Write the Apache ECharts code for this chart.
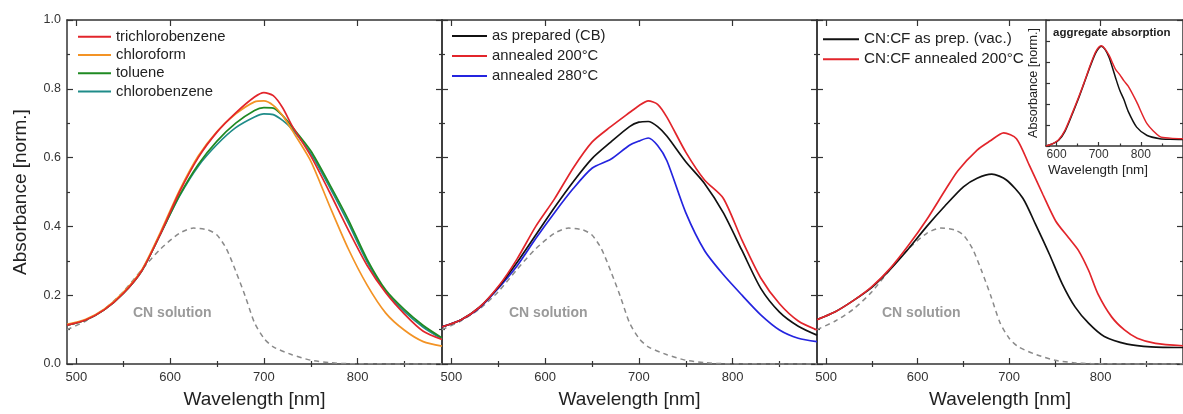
<!DOCTYPE html>
<html><head><meta charset="utf-8">
<script src="https://cdn.jsdelivr.net/npm/echarts@6/dist/echarts.min.js"></script>
<style>html,body{margin:0;padding:0;background:#fff}#c{width:1183px;height:414px}</style>
</head><body><div id="c"></div>
<script>
// ---- tick labels ----
const xTicksMajor = [500, 600, 700, 800];
const xTicksMinor = [550, 650, 750, 850];
const insetTicksMajor = [600, 700, 800];
const insetTicksMinor = [650, 750, 850];

// ---- panel 1: solvents ----
const wl1 = [490,510,530,550,570,590,610,630,650,670,690,700,710,720,730,750,770,790,810,830,850,870,890];
const trichlorobenzene = [0.113,0.128,0.158,0.205,0.272,0.38,0.5,0.6,0.674,0.73,0.776,0.789,0.78,0.745,0.693,0.605,0.5,0.39,0.287,0.207,0.145,0.095,0.071];
const chloroform       = [0.115,0.13,0.16,0.208,0.275,0.385,0.505,0.605,0.676,0.727,0.762,0.765,0.752,0.722,0.68,0.59,0.46,0.335,0.23,0.148,0.098,0.065,0.052];
const toluene          = [0.113,0.128,0.158,0.205,0.272,0.38,0.49,0.58,0.648,0.7,0.737,0.745,0.744,0.722,0.69,0.62,0.523,0.42,0.305,0.215,0.158,0.112,0.076];
const chlorobenzene    = [0.113,0.128,0.158,0.205,0.272,0.38,0.488,0.575,0.638,0.687,0.718,0.727,0.725,0.708,0.683,0.612,0.515,0.41,0.298,0.21,0.152,0.107,0.073];

// ---- panel 2: annealing (CB) ----
const wl2 = [490,510,530,550,570,590,610,630,650,670,690,700,710,720,730,750,770,790,810,830,850,870,890];
const asPrepared  = [0.108,0.128,0.165,0.223,0.295,0.375,0.455,0.53,0.597,0.645,0.69,0.703,0.705,0.69,0.662,0.588,0.525,0.44,0.33,0.22,0.151,0.11,0.084];
const annealed200 = [0.108,0.128,0.165,0.225,0.305,0.4,0.48,0.57,0.645,0.69,0.731,0.751,0.765,0.755,0.717,0.616,0.535,0.482,0.36,0.25,0.175,0.125,0.099];
const annealed280 = [0.108,0.128,0.163,0.22,0.285,0.365,0.44,0.51,0.569,0.595,0.636,0.648,0.657,0.635,0.59,0.44,0.33,0.26,0.2,0.143,0.099,0.075,0.065];

// ---- panel 3: CN:CF ----
const wl3a = [490,510,530,550,570,590,610,630,650,665,681,697,715,729,744,758,772,787,804,829,855,890];
const cfAsPrep = [0.129,0.152,0.185,0.223,0.275,0.335,0.4,0.46,0.515,0.54,0.552,0.535,0.482,0.405,0.319,0.233,0.166,0.118,0.08,0.058,0.05,0.048];
const wl3b = [490,510,530,550,570,590,610,630,644,665,679,694,708,722,737,751,765,776,787,797,812,826,840,860,890];
const cfAnnealed = [0.129,0.152,0.185,0.225,0.278,0.345,0.42,0.505,0.562,0.622,0.648,0.672,0.655,0.578,0.492,0.415,0.367,0.329,0.271,0.204,0.137,0.099,0.075,0.06,0.053];

// ---- CN solution reference (dashed, all panels) ----
const wlCN = [490,510,530,550,570,590,610,625,640,650,660,670,680,690,700,710,730,750,770,790,890];
const cnSolution = [0.1,0.125,0.16,0.21,0.275,0.335,0.38,0.395,0.39,0.375,0.335,0.27,0.198,0.12,0.075,0.05,0.027,0.011,0.004,0.001,0.0];

// ---- inset: aggregate absorption ----
const wlIn = [575,590,605,620,638,650,665,680,692,700,706,715,725,740,750,760,770,790,815,845,870,900];
const inPrep   = [0.0,0.02,0.055,0.14,0.31,0.43,0.594,0.76,0.88,0.93,0.95,0.92,0.84,0.65,0.53,0.44,0.33,0.18,0.1,0.07,0.064,0.062];
const inAnneal = [0.0,0.02,0.06,0.15,0.32,0.44,0.6,0.77,0.89,0.94,0.955,0.925,0.86,0.73,0.68,0.62,0.57,0.42,0.21,0.09,0.075,0.07];

const FONT = '"Liberation Sans", Arial, Helvetica, sans-serif';
const AX = '#333';
const C = {red:'#e2252b', orange:'#f39325', green:'#1f8a22', teal:'#1f8c89', blue:'#2424df', black:'#111111', gray:'#8a8a8a'};

const grids = [
  {left:67, top:20, width:375, height:348},
  {left:442, top:20, width:375, height:348},
  {left:817, top:20, width:375, height:348},
  {left:1046, top:20, width:160, height:126}
];

const axLine = {show:true, onZero:false, lineStyle:{color:AX, width:1.5}};
const tickStyle = {color:AX, width:1.2};
const xAxes = [], yAxes = [];
for (let g = 0; g < 3; g++) {
  xAxes.push({gridIndex:g, type:'value', min:490, max:890, position:'bottom',
    axisLine:axLine, splitLine:{show:false},
    axisTick:{inside:true, length:6, customValues:xTicksMajor, lineStyle:tickStyle},
    axisLabel:{customValues:xTicksMajor, fontSize:13, color:'#333', margin:7, fontFamily:FONT},
    name:'Wavelength [nm]', nameLocation:'middle', nameGap:26,
    nameTextStyle:{fontSize:19, color:'#222', fontFamily:FONT}});
  xAxes.push({gridIndex:g, type:'value', min:490, max:890, position:'bottom',
    axisLine:{show:false}, splitLine:{show:false}, axisLabel:{show:false},
    axisTick:{inside:true, length:3, customValues:xTicksMinor, lineStyle:tickStyle}});
  xAxes.push({gridIndex:g, type:'value', min:490, max:890, position:'top',
    axisLine:axLine, splitLine:{show:false}, axisLabel:{show:false},
    axisTick:{inside:true, length:6, customValues:xTicksMajor, lineStyle:tickStyle}});
  xAxes.push({gridIndex:g, type:'value', min:490, max:890, position:'top',
    axisLine:{show:false}, splitLine:{show:false}, axisLabel:{show:false},
    axisTick:{inside:true, length:3, customValues:xTicksMinor, lineStyle:tickStyle}});
  yAxes.push({gridIndex:g, type:'value', min:0, max:1, interval:0.2, position:'left',
    axisLine:axLine, splitLine:{show:false},
    axisTick:{show:true, inside:true, length:6, lineStyle:tickStyle},
    minorTick:{show:true, splitNumber:2, length:3, lineStyle:tickStyle},
    axisLabel:{show:g===0, fontSize:12.5, color:'#333', margin:6, fontFamily:FONT, formatter:v=>v.toFixed(1)},
    name: g===0 ? 'Absorbance [norm.]' : '', nameLocation:'middle', nameGap:37,
    nameTextStyle:{fontSize:19, color:'#222', fontFamily:FONT}});
  yAxes.push({gridIndex:g, type:'value', min:0, max:1, interval:0.2, position:'right',
    axisLine:axLine, splitLine:{show:false}, axisLabel:{show:false},
    axisTick:{show:true, inside:true, length:6, lineStyle:tickStyle},
    minorTick:{show:true, splitNumber:2, length:3, lineStyle:tickStyle}});
}
// inset axes (x index 12,13 ; y index 6)
xAxes.push({gridIndex:3, type:'value', min:575, max:900, position:'bottom',
  axisLine:axLine, splitLine:{show:false},
  axisTick:{inside:true, length:4, customValues:insetTicksMajor, lineStyle:tickStyle},
  axisLabel:{customValues:insetTicksMajor, fontSize:12, color:'#333', margin:3, fontFamily:FONT}});
xAxes.push({gridIndex:3, type:'value', min:575, max:900, position:'bottom',
  axisLine:{show:false}, splitLine:{show:false}, axisLabel:{show:false},
  axisTick:{inside:true, length:2.5, customValues:insetTicksMinor, lineStyle:tickStyle}});
yAxes.push({gridIndex:3, type:'value', min:0, max:1.2, interval:0.2, position:'left',
  axisLine:axLine, splitLine:{show:false}, axisLabel:{show:false},
  axisTick:{show:true, inside:true, length:4, lineStyle:tickStyle},
  name:'Absorbance [norm.]', nameLocation:'middle', nameGap:6,
  nameTextStyle:{fontSize:12.6, color:'#222', fontFamily:FONT}});

function line(name, xs, ys, color, g, dashed, w) {
  const xi = g === 3 ? 12 : g * 4;
  const yi = g === 3 ? 6 : g * 2;
  return {type:'line', name, xAxisIndex:xi, yAxisIndex:yi,
    data: xs.map((x, i) => [x, ys[i]]), smooth:0.25,
    showSymbol:false, symbol:'none', silent:true, z: dashed ? 1 : 3,
    lineStyle:{color, width: w || 1.7, type: dashed ? [5, 4] : 'solid'}, itemStyle:{color}};
}

const series = [
  line('CN solution a', wlCN, cnSolution, C.gray, 0, true, 1.5),
  line('CN solution b', wlCN, cnSolution, C.gray, 1, true, 1.5),
  line('CN solution c', wlCN, cnSolution, C.gray, 2, true, 1.5),
  line('chlorobenzene', wl1, chlorobenzene, C.teal, 0),
  line('toluene', wl1, toluene, C.green, 0),
  line('chloroform', wl1, chloroform, C.orange, 0),
  line('trichlorobenzene', wl1, trichlorobenzene, C.red, 0),
  line('annealed 280°C', wl2, annealed280, C.blue, 1),
  line('as prepared (CB)', wl2, asPrepared, C.black, 1),
  line('annealed 200°C', wl2, annealed200, C.red, 1),
  line('CN:CF as prep. (vac.)', wl3a, cfAsPrep, C.black, 2),
  line('CN:CF annealed 200°C', wl3b, cfAnnealed, C.red, 2),
  line('inset prep', wlIn, inPrep, C.black, 3, false, 1.5),
  line('inset anneal', wlIn, inAnneal, C.red, 3, false, 1.5)
];

function legend(names, left, top, iw, fs, gap) {
  return {data:names, orient:'vertical', left, top, padding:0, itemGap:gap,
    icon:'rect', itemWidth:iw, itemHeight:2, selectedMode:false,
    textStyle:{fontSize:fs, lineHeight:16, color:'#222', fontFamily:FONT}};
}

const cnText = (left) => ({type:'text', left, top:306,
  style:{text:'CN solution', font:'bold 14px ' + FONT, fill:'#9a9a9a'}});

const option = {
  animation:false,
  backgroundColor:'#fff',
  grid:grids,
  xAxis:xAxes,
  yAxis:yAxes,
  legend:[
    legend(['trichlorobenzene','chloroform','toluene','chlorobenzene'], 78, 28.7, 33, 14.8, 2.3),
    legend(['as prepared (CB)','annealed 200°C','annealed 280°C'], 452, 28, 35, 14.8, 4),
    legend(['CN:CF as prep. (vac.)','CN:CF annealed 200°C'], 823, 31.3, 36, 15.2, 4)
  ],
  graphic:[
    cnText(133), cnText(509), cnText(882),
    {type:'text', left:1053, top:27, style:{text:'aggregate absorption', font:'bold 11.5px ' + FONT, fill:'#222'}},
    {type:'text', x:1098, y:170, style:{text:'Wavelength [nm]', font:'13.4px ' + FONT, fill:'#222', align:'center', verticalAlign:'middle'}}
  ],
  series
};
const chart = echarts.init(document.getElementById('c'), null, {renderer:'canvas'});
chart.setOption(option);
</script></body></html>
